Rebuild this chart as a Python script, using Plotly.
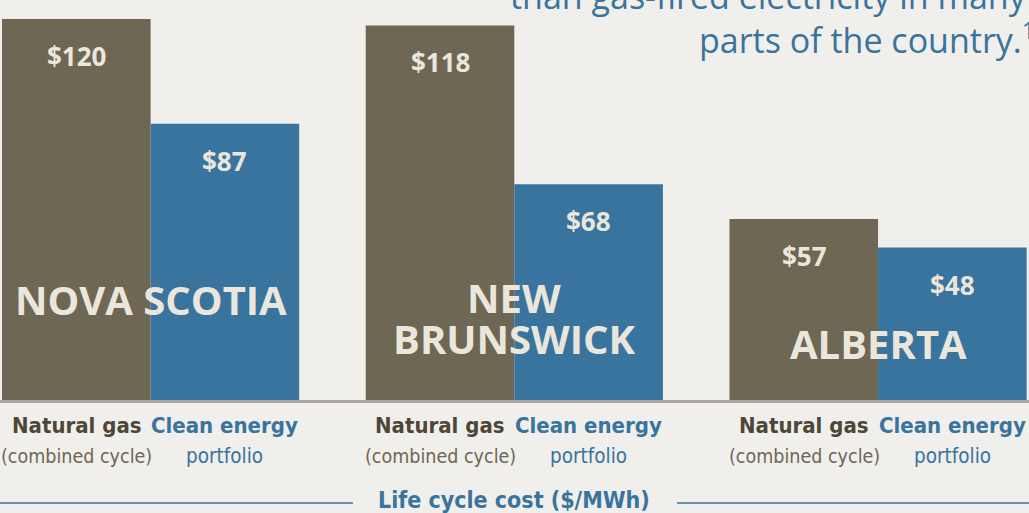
import plotly.graph_objects as go

regions = ["NOVA SCOTIA", "NEW<br>BRUNSWICK", "ALBERTA"]
gas_values = [120, 118, 57]
clean_values = [87, 68, 48]
gas_label = ["Natural gas", "(combined cycle)"]
clean_label = ["Clean energy", "portfolio"]
axis_title = "Life cycle cost ($/MWh)"
headline = ["than gas-fired electricity in many", "parts of the country.<sup>1</sup>"]

BG = "#f0efeb"
BROWN = "#6e6753"
BLUE = "#38749e"
CREAM = "#ebe6dc"
DARK = "#4e4636"
COND = "DejaVu Sans Condensed, DejaVu Sans, sans-serif"
SANS = "Open Sans, Noto Sans, sans-serif"

x = list(range(len(regions)))
fig = go.Figure()
fig.add_bar(x=x, y=gas_values, marker=dict(color=BROWN, line=dict(width=0)), hoverinfo="skip")
fig.add_bar(x=x, y=clean_values, marker=dict(color=BLUE, line=dict(width=0)), hoverinfo="skip")

ann = []
shift = 74
for i in x:
    ann.append(dict(x=i, y=gas_values[i], xref="x", yref="y", xshift=-shift, yshift=-37,
                    text=f"<b>${gas_values[i]}</b>", showarrow=False, yanchor="middle",
                    font=dict(family=SANS, size=26, color=CREAM)))
    ann.append(dict(x=i, y=clean_values[i], xref="x", yref="y", xshift=shift, yshift=-37,
                    text=f"<b>${clean_values[i]}</b>", showarrow=False, yanchor="middle",
                    font=dict(family=SANS, size=26, color=CREAM)))
    ann.append(dict(x=i, y=-0.0625, xref="x", yref="paper", xshift=-shift,
                    text=f"<b>{gas_label[0]}</b>", showarrow=False, yanchor="middle",
                    font=dict(family=COND, size=22, color=DARK)))
    ann.append(dict(x=i, y=-0.14, xref="x", yref="paper", xshift=-shift,
                    text=gas_label[1], showarrow=False, yanchor="middle",
                    font=dict(family=COND, size=19.5, color=BROWN)))
    ann.append(dict(x=i, y=-0.0625, xref="x", yref="paper", xshift=shift,
                    text=f"<b>{clean_label[0]}</b>", showarrow=False, yanchor="middle",
                    font=dict(family=COND, size=22, color=BLUE)))
    ann.append(dict(x=i, y=-0.14, xref="x", yref="paper", xshift=shift,
                    text=clean_label[1], showarrow=False, yanchor="middle",
                    font=dict(family=COND, size=20.5, color=BLUE)))

region_y = [0.2525, 0.205, 0.1425]
line_gap = 41
for i in x:
    lines = regions[i].split("<br>")
    n = len(lines)
    for j, ln in enumerate(lines):
        ann.append(dict(x=i, y=region_y[i], xref="x", yref="paper",
                        yshift=((n - 1) / 2 - j) * line_gap,
                        text=f"<b>{ln}</b>", showarrow=False, yanchor="middle",
                        font=dict(family=SANS, size=40, color=CREAM)))

ann.append(dict(x=0.4995, y=-0.25, xref="paper", yref="paper", text=f"<b>{axis_title}</b>",
                showarrow=False, yanchor="middle", font=dict(family=COND, size=23, color=BLUE)))
ann.append(dict(x=1.0, y=1.01, xref="paper", yref="paper", text=headline[0], xanchor="right",
                showarrow=False, yanchor="middle", font=dict(family=SANS, size=34, color=BLUE)))
ann.append(dict(x=1.0078, y=0.903, xref="paper", yref="paper", text=headline[1], xanchor="right",
                showarrow=False, yanchor="middle", font=dict(family=SANS, size=34, color=BLUE)))

shapes = [
    dict(type="line", xref="paper", yref="paper", x0=0, x1=0.343, y0=-0.2575, y1=-0.2575,
         line=dict(color=BLUE, width=1.5)),
    dict(type="line", xref="paper", yref="paper", x0=0.658, x1=1, y0=-0.2575, y1=-0.2575,
         line=dict(color=BLUE, width=1.5)),
]

fig.update_layout(
    width=1029, height=513,
    margin=dict(l=0, r=0, t=0, b=113),
    paper_bgcolor=BG, plot_bgcolor=BG,
    barmode="group", bargap=0.183, bargroupgap=0,
    showlegend=False,
    annotations=ann, shapes=shapes,
    xaxis=dict(range=[-0.414, 2.415], showticklabels=False, ticks="", showgrid=False,
               zeroline=False, showline=True, linecolor="#aaa89e", linewidth=3, fixedrange=True),
    yaxis=dict(range=[0, 126.0], visible=False, fixedrange=True),
)

fig.write_html("out.html", config={"displayModeBar": False},
               post_script="document.body.style.margin='0';document.body.style.overflow='hidden';document.body.style.background='" + BG + "';")
